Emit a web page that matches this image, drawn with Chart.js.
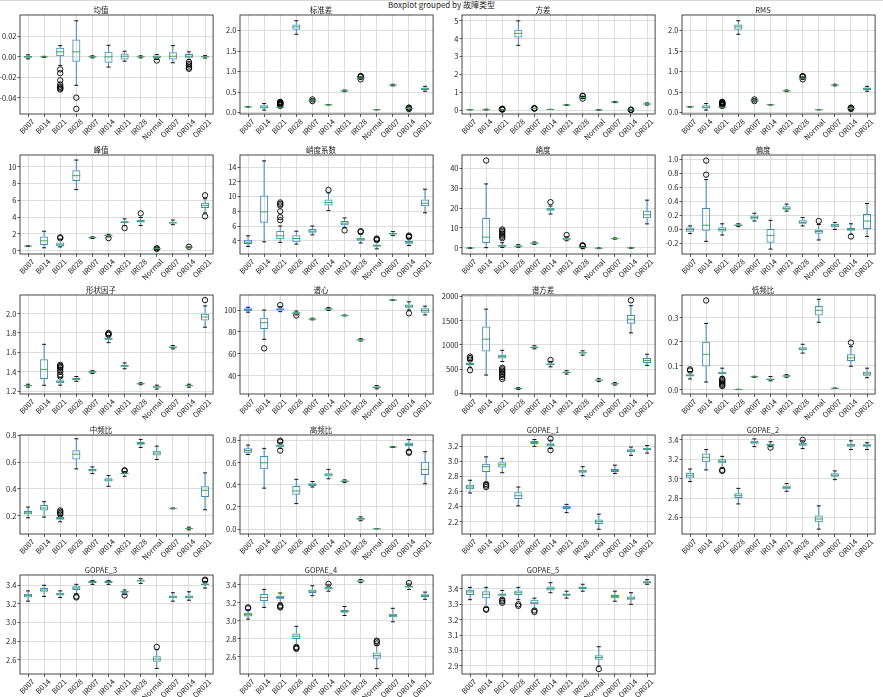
<!DOCTYPE html>
<html>
<head>
<meta charset="utf-8">
<script src="https://cdn.jsdelivr.net/npm/chart.js@4.4.1/dist/chart.umd.min.js"></script>
<style>
  body { margin: 0; background: #fff; width: 883px; height: 697px; overflow: hidden; position: relative; font-family: 'Noto Sans CJK SC', 'Noto Sans', sans-serif; }
  #topline { position: absolute; left: 0; top: 0; width: 883px; height: 1px; background: #d8d8d8; }
  #title { position: absolute; top: 0; left: 0; width: 883px; text-align: center; font-size: 8px; line-height: 10px; color: #222; }
  .cell { position: absolute; }
</style>
</head>
<body>
<div id="topline"></div>
<div id="title">Boxplot grouped by 故障类型</div>
<script>
// categories (fault types)
const cats = ['B007', 'B014', 'B021', 'B028', 'IR007', 'IR014', 'IR021', 'IR028', 'Normal', 'OR007', 'OR014', 'OR021'];

// each box row: [lower whisker, q1, median, q3, upper whisker]
const meanBox = [[-0.002,-0.001,0,0.001,0.002],[-0.0005,-0.0002,0,0.0002,0.0005],[-0.0084,0.0006,0.0049,0.0088,0.011],[-0.0279,-0.0049,0.0049,0.0169,0.0353],[-0.001,-0.0005,0,0.0005,0.001],[-0.010,-0.0058,0,0.0049,0.0113],[-0.0042,-0.0026,0.0006,0.0032,0.0055],[-0.001,-0.0004,0,0.0004,0.001],[-0.0026,-0.0013,0,0.0013,0.0023],[-0.0058,-0.0026,0.0006,0.0045,0.011],[-0.0026,-0.001,0.0006,0.0029,0.0049],[-0.0012,-0.0005,0,0.0005,0.0012]];
const meanOut = [[],[],[-0.0123,-0.016,-0.023,-0.027,-0.029,-0.030,-0.031,-0.032],[-0.040,-0.051],[],[],[],[],[-0.0036],[],[-0.005,-0.007,-0.0085,-0.0105,-0.0117],[]];
const meanTicks = [-0.04, -0.02, 0, 0.02];

const stdBox = [[0.135,0.138,0.14,0.142,0.145],[0.06,0.1,0.13,0.18,0.22],[0.11,0.12,0.13,0.14,0.155],[1.91,2.02,2.09,2.15,2.24],[0.29,0.295,0.3,0.305,0.31],[0.185,0.188,0.19,0.192,0.195],[0.51,0.52,0.53,0.54,0.55],[0.82,0.83,0.84,0.85,0.86],[0.068,0.069,0.07,0.071,0.072],[0.65,0.66,0.67,0.68,0.69],[0.09,0.095,0.1,0.105,0.11],[0.52,0.55,0.58,0.61,0.64]];
const stdOut = [[],[],[0.17,0.19,0.2,0.21,0.22,0.23,0.24,0.25,0.26],[],[0.28,0.32],[],[],[0.81,0.87,0.88,0.89],[],[],[0.085,0.115,0.12],[]];
const stdTicks = [0, 0.5, 1.0, 1.5, 2.0];

const varBox = [[0.018,0.019,0.02,0.021,0.022],[0.005,0.01,0.02,0.035,0.05],[0.012,0.015,0.017,0.02,0.025],[3.63,4.07,4.3,4.5,5.0],[0.084,0.087,0.09,0.093,0.096],[0.034,0.035,0.036,0.037,0.038],[0.26,0.27,0.28,0.29,0.3],[0.66,0.69,0.71,0.73,0.76],[0.004,0.0045,0.005,0.0055,0.006],[0.42,0.44,0.45,0.46,0.48],[0.008,0.009,0.01,0.011,0.012],[0.28,0.31,0.34,0.37,0.4]];
const varOut = [[],[],[0.03,0.04,0.05,0.06,0.07],[],[0.08,0.1,0.11],[],[],[0.64,0.78,0.8],[],[],[0.005,0.015,0.02],[]];
const varTicks = [0, 1, 2, 3, 4, 5];

const rmsBox = [[0.135,0.138,0.14,0.142,0.145],[0.06,0.1,0.13,0.18,0.22],[0.11,0.12,0.13,0.14,0.155],[1.91,2.02,2.09,2.15,2.24],[0.29,0.295,0.3,0.305,0.31],[0.185,0.188,0.19,0.192,0.195],[0.51,0.52,0.53,0.54,0.55],[0.82,0.83,0.84,0.85,0.86],[0.068,0.069,0.07,0.071,0.072],[0.65,0.66,0.67,0.68,0.69],[0.09,0.095,0.1,0.105,0.11],[0.52,0.55,0.58,0.61,0.64]];
const rmsOut = [[],[],[0.17,0.19,0.2,0.21,0.22,0.23,0.24,0.25,0.26],[],[0.28,0.32],[],[],[0.81,0.87,0.88,0.89],[],[],[0.085,0.115,0.12],[]];
const rmsTicks = [0, 0.5, 1.0, 1.5, 2.0];

const peakBox = [[0.5,0.53,0.55,0.57,0.6],[0.35,0.67,1.18,1.69,2.32],[0.45,0.51,0.7,0.98,1.38],[7.28,8.3,8.94,9.57,10.8],[1.45,1.5,1.55,1.6,1.65],[1.65,1.75,1.8,1.85,1.95],[3.0,3.3,3.4,3.5,3.8],[3.0,3.35,3.5,3.65,3.95],[0.15,0.2,0.25,0.3,0.35],[3.1,3.25,3.32,3.4,3.65],[0.38,0.4,0.42,0.44,0.46],[4.5,5.1,5.4,5.7,6.2]];
const peakOut = [[],[],[1.5,1.6],[],[],[1.5],[2.7],[4.45],[0.22,0.3],[],[0.47],[4.1,6.6]];
const peakTicks = [0, 2, 4, 6, 8, 10];

const crestBox = [[3.24,3.55,3.8,4.13,4.67],[3.85,6.46,7.93,10.16,14.85],[3.78,4.22,4.67,5.34,6.0],[3.55,3.78,4.3,4.76,5.3],[4.8,5.1,5.3,5.6,6.0],[8.1,8.8,9.2,9.6,10.5],[5.8,6.1,6.4,6.7,7.1],[3.7,4.0,4.2,4.4,4.9],[2.9,3.2,3.35,3.5,3.9],[4.7,4.85,4.95,5.05,5.25],[3.35,3.6,3.8,3.95,4.3],[7.8,8.7,9.1,9.6,11.0]];
const crestOut = [[],[],[6.8,7.2,8.0,8.8,9.0,9.2],[],[],[10.9],[5.4],[5.2,5.3],[4.1,4.2,4.3],[],[4.5,4.6,4.7],[]];
const crestTicks = [4, 6, 8, 10, 12, 14];

const kurtBox = [[-0.4,-0.3,-0.2,-0.1,0.0],[0,2.3,5.3,15,32.2],[0.1,0.4,0.9,1.3,2.5],[0.2,0.5,0.8,1.1,1.5],[1.7,2.0,2.3,2.6,2.9],[17,18.6,19.4,20.2,21],[3.5,4.0,4.4,4.8,5.5],[-0.5,-0.1,0.2,0.5,0.6],[-0.5,-0.4,-0.3,-0.2,-0.1],[4.3,4.5,4.6,4.7,4.9],[-0.3,-0.2,-0.1,0,0.1],[12,14.8,16.6,18.6,24]];
const kurtOut = [[],[44],[4.8,5.5,6.2,7,7.8,8.5,9.2],[],[],[23],[6.4],[0.8,1.0,1.2],[],[],[],[]];
const kurtTicks = [0, 10, 20, 30, 40];

const skewBox = [[-0.06,-0.033,0,0.028,0.05],[-0.17,-0.02,0.06,0.306,0.71],[-0.08,-0.03,0,0.03,0.08],[0.04,0.05,0.06,0.07,0.08],[0.12,0.14,0.17,0.2,0.23],[-0.28,-0.19,-0.085,0.005,0.13],[0.26,0.28,0.3,0.33,0.36],[0.05,0.08,0.1,0.13,0.17],[-0.15,-0.06,-0.03,0,0.07],[0,0.03,0.06,0.08,0.1],[-0.07,-0.02,0,0.02,0.08],[-0.1,0,0.12,0.22,0.37]];
const skewOut = [[],[0.78,0.98],[],[],[],[],[],[],[0.12],[],[-0.1],[]];
const skewTicks = [-0.2, 0, 0.2, 0.4, 0.6, 0.8, 1.0];

const shapeBox = [[1.24,1.25,1.255,1.26,1.27],[1.259,1.324,1.424,1.528,1.683],[1.26,1.28,1.295,1.31,1.34],[1.3,1.31,1.32,1.335,1.35],[1.38,1.39,1.397,1.405,1.41],[1.7,1.73,1.74,1.75,1.77],[1.43,1.45,1.46,1.47,1.49],[1.265,1.27,1.275,1.28,1.285],[1.22,1.235,1.24,1.25,1.26],[1.635,1.645,1.652,1.66,1.67],[1.24,1.25,1.255,1.26,1.27],[1.86,1.93,1.965,2.0,2.08]];
const shapeOut = [[],[],[1.35,1.37,1.4,1.42,1.44,1.45,1.46,1.47],[],[],[1.78,1.79,1.8],[],[],[],[],[],[2.14]];
const shapeTicks = [1.2, 1.4, 1.6, 1.8, 2.0];

const centBox = [[98,99,100.3,101.5,102.5],[73.2,82.6,88.4,93,100],[98.5,99.5,100.5,101.5,103],[95.5,96.5,97.2,98,99],[91,91.3,91.7,92.1,92.5],[99.7,100.3,101,101.5,102.3],[94.6,94.8,95,95.2,95.4],[71.7,72.3,72.8,73.3,73.8],[28,28.8,29.5,30.2,31],[108.7,108.9,109,109.1,109.3],[100,102,103.5,105,107.5],[95.5,97.5,99.5,101.5,103.5]];
const centOut = [[],[65],[104.5],[95],[],[],[],[],[],[],[97],[]];
const centTicks = [40, 60, 80, 100];

const svarBox = [[540,590,610,630,680],[380,866,1120,1381,1739],[660,720,760,800,890],[85,95,103,110,120],[920,940,952,965,985],[550,590,605,620,660],[400,425,437,450,470],[790,825,837,850,880],[245,265,275,285,305],[175,190,200,210,225],[1250,1440,1530,1620,1810],[580,630,680,730,810]];
const svarOut = [[480,700,730,760],[],[300,340,380,410,440,470,500,530],[],[],[690],[],[],[],[],[1920],[]];
const svarTicks = [0, 500, 1000, 1500, 2000];

const lowBox = [[0.045,0.055,0.06,0.065,0.075],[0.032,0.097,0.148,0.2,0.277],[0.055,0.065,0.07,0.075,0.09],[0.0005,0.0008,0.001,0.0012,0.0015],[0.052,0.053,0.054,0.055,0.056],[0.037,0.04,0.043,0.047,0.055],[0.052,0.055,0.057,0.06,0.063],[0.153,0.165,0.17,0.178,0.19],[0.282,0.31,0.332,0.35,0.378],[0.005,0.0055,0.006,0.0065,0.007],[0.098,0.12,0.133,0.148,0.18],[0.05,0.058,0.066,0.075,0.09]];
const lowOut = [[0.08,0.085],[0.373],[0.015,0.02,0.025,0.03,0.035,0.04,0.045],[],[],[],[],[],[],[],[0.197],[]];
const lowTicks = [0.0, 0.1, 0.2, 0.3];

const midBox = [[0.185,0.21,0.222,0.235,0.265],[0.19,0.24,0.258,0.28,0.305],[0.155,0.17,0.18,0.19,0.2],[0.55,0.62,0.66,0.69,0.775],[0.515,0.53,0.54,0.55,0.565],[0.42,0.455,0.467,0.48,0.5],[0.495,0.51,0.515,0.52,0.53],[0.71,0.73,0.74,0.75,0.77],[0.62,0.65,0.668,0.685,0.72],[0.252,0.254,0.255,0.256,0.258],[0.095,0.1,0.105,0.11,0.115],[0.245,0.34,0.39,0.42,0.52]];
const midOut = [[],[],[0.21,0.22,0.23,0.24],[],[],[],[0.535,0.54],[],[],[],[],[]];
const midTicks = [0.2, 0.4, 0.6, 0.8];

const highBox = [[0.675,0.69,0.71,0.73,0.76],[0.37,0.54,0.6,0.66,0.73],[0.73,0.74,0.752,0.765,0.78],[0.23,0.31,0.345,0.39,0.45],[0.38,0.39,0.4,0.415,0.43],[0.455,0.475,0.49,0.505,0.54],[0.42,0.425,0.432,0.44,0.445],[0.075,0.085,0.093,0.1,0.11],[0.002,0.0025,0.003,0.0035,0.004],[0.738,0.74,0.742,0.744,0.746],[0.72,0.75,0.765,0.78,0.81],[0.41,0.49,0.54,0.61,0.7]];
const highOut = [[],[],[0.71,0.79,0.8],[],[],[],[],[],[],[],[0.69,0.7],[]];
const highTicks = [0.0, 0.2, 0.4, 0.6, 0.8];

const g1Box = [[2.58,2.63,2.66,2.69,2.75],[2.72,2.86,2.93,2.97,3.06],[2.85,2.92,2.955,2.99,3.04],[2.41,2.5,2.545,2.59,2.66],[3.2,3.23,3.25,3.27,3.29],[3.17,3.2,3.22,3.24,3.28],[2.32,2.37,2.39,2.41,2.43],[2.81,2.85,2.87,2.89,2.93],[2.1,2.17,2.2,2.23,2.3],[2.84,2.86,2.88,2.9,2.95],[3.08,3.12,3.14,3.16,3.19],[3.11,3.15,3.165,3.18,3.21]];
const g1Out = [[],[2.66,2.68,2.7],[],[],[],[3.15,3.3],[],[],[],[],[],[]];
const g1Ticks = [2.2, 2.4, 2.6, 2.8, 3.0, 3.2];

const g2Box = [[2.97,3.01,3.035,3.06,3.1],[3.09,3.17,3.22,3.26,3.3],[3.11,3.16,3.18,3.2,3.23],[2.74,2.8,2.825,2.85,2.9],[3.33,3.36,3.375,3.39,3.41],[3.33,3.34,3.35,3.36,3.38],[2.87,2.89,2.91,2.93,2.95],[3.31,3.34,3.355,3.37,3.39],[2.48,2.55,2.585,2.62,2.72],[2.99,3.02,3.035,3.055,3.08],[3.3,3.33,3.345,3.36,3.39],[3.3,3.33,3.343,3.355,3.37]];
const g2Out = [[],[],[3.08,3.09],[],[],[3.32],[],[3.4],[],[],[],[]];
const g2Ticks = [2.6, 2.8, 3.0, 3.2, 3.4];

const g3Box = [[3.23,3.27,3.29,3.31,3.34],[3.28,3.33,3.35,3.37,3.4],[3.27,3.29,3.305,3.32,3.34],[3.31,3.35,3.37,3.39,3.41],[3.41,3.425,3.435,3.445,3.45],[3.41,3.425,3.435,3.445,3.45],[3.3,3.32,3.33,3.34,3.35],[3.42,3.44,3.448,3.455,3.47],[2.51,2.58,2.61,2.64,2.71],[3.23,3.26,3.275,3.29,3.32],[3.24,3.26,3.275,3.29,3.33],[3.37,3.4,3.41,3.42,3.44]];
const g3Out = [[],[],[],[3.27,3.28],[],[],[3.29],[],[2.74],[],[],[3.45,3.46]];
const g3Ticks = [2.6, 2.8, 3.0, 3.2, 3.4];

const g4Box = [[3.02,3.05,3.07,3.09,3.12],[3.15,3.22,3.26,3.3,3.35],[3.2,3.24,3.26,3.28,3.31],[2.73,2.8,2.83,2.86,2.94],[3.28,3.31,3.33,3.35,3.39],[3.33,3.35,3.365,3.38,3.4],[3.06,3.09,3.105,3.12,3.16],[3.425,3.435,3.443,3.45,3.46],[2.47,2.58,2.615,2.65,2.73],[2.99,3.04,3.06,3.08,3.14],[3.35,3.37,3.38,3.39,3.41],[3.24,3.265,3.28,3.295,3.32]];
const g4Out = [[3.14,3.15],[],[3.15,3.16,3.17],[2.69,2.7,2.71],[],[3.41],[],[],[2.75,2.77,2.78],[],[3.42],[]];
const g4Ticks = [2.6, 2.8, 3.0, 3.2, 3.4];

const g5Box = [[3.33,3.36,3.38,3.395,3.41],[3.28,3.34,3.365,3.385,3.41],[3.34,3.355,3.362,3.37,3.39],[3.33,3.36,3.375,3.39,3.41],[3.27,3.3,3.31,3.33,3.34],[3.375,3.39,3.402,3.415,3.44],[3.34,3.355,3.362,3.37,3.385],[3.385,3.4,3.407,3.415,3.43],[2.9,2.94,2.955,2.97,3.025],[3.32,3.34,3.35,3.36,3.385],[3.3,3.33,3.34,3.35,3.375],[3.43,3.435,3.443,3.45,3.46]];
const g5Out = [[],[3.265,3.27],[3.31,3.32,3.33],[3.29,3.3],[3.25,3.26],[],[],[],[2.88],[],[],[]];
const g5Ticks = [2.9, 3.0, 3.1, 3.2, 3.3, 3.4];

const panels = [
  { title: '均值', box: meanBox, out: meanOut, ticks: meanTicks, min: -0.056, max: 0.041, dec: 2 },
  { title: '标准差', box: stdBox, out: stdOut, ticks: stdTicks, min: -0.035, max: 2.38, dec: 1 },
  { title: '方差', box: varBox, out: varOut, ticks: varTicks, min: -0.22, max: 5.33, dec: 0 },
  { title: 'RMS', box: rmsBox, out: rmsOut, ticks: rmsTicks, min: -0.035, max: 2.38, dec: 1 },
  { title: '峰值', box: peakBox, out: peakOut, ticks: peakTicks, min: -0.39, max: 11.4, dec: 0 },
  { title: '峭度系数', box: crestBox, out: crestOut, ticks: crestTicks, min: 2.2, max: 15.65, dec: 0 },
  { title: '峭度', box: kurtBox, out: kurtOut, ticks: kurtTicks, min: -3.2, max: 46.8, dec: 0 },
  { title: '偏度', box: skewBox, out: skewOut, ticks: skewTicks, min: -0.35, max: 1.06, dec: 1 },
  { title: '形状因子', box: shapeBox, out: shapeOut, ticks: shapeTicks, min: 1.169, max: 2.193, dec: 1 },
  { title: '谱心', box: centBox, out: centOut, ticks: centTicks, min: 23.3, max: 113.7, dec: 0 },
  { title: '谱方差', box: svarBox, out: svarOut, ticks: svarTicks, min: -10, max: 2030, dec: 0 },
  { title: '低频比', box: lowBox, out: lowOut, ticks: lowTicks, min: -0.018, max: 0.396, dec: 1 },
  { title: '中频比', box: midBox, out: midOut, ticks: midTicks, min: 0.064, max: 0.803, dec: 1 },
  { title: '高频比', box: highBox, out: highOut, ticks: highTicks, min: -0.045, max: 0.851, dec: 1 },
  { title: 'GOPAE_1', box: g1Box, out: g1Out, ticks: g1Ticks, min: 2.037, max: 3.35, dec: 1 },
  { title: 'GOPAE_2', box: g2Box, out: g2Out, ticks: g2Ticks, min: 2.43, max: 3.45, dec: 1 },
  { title: 'GOPAE_3', box: g3Box, out: g3Out, ticks: g3Ticks, min: 2.45, max: 3.51, dec: 1 },
  { title: 'GOPAE_4', box: g4Box, out: g4Out, ticks: g4Ticks, min: 2.41, max: 3.51, dec: 1 },
  { title: 'GOPAE_5', box: g5Box, out: g5Out, ticks: g5Ticks, min: 2.848, max: 3.49, dec: 1 },
];

// layout of the 5x4 grid (plot areas)
const plotLefts = [20, 240, 462, 682];
const plotTops = [15, 155, 295, 435, 575];
const plotW = 194, plotH = 99;
const padL = 32, padT = 11, padR = 4, padB = 30;

const boxColor = '#3d8bbb';
const medColor = '#45a65a';
const gridColor = '#d3d3d3';

Chart.defaults.font.family = "'Noto Sans CJK SC', 'Noto Sans', sans-serif";
Chart.defaults.font.size = 7.5;
Chart.defaults.color = '#222';

function seg(ctx, x1, y1, x2, y2) {
  ctx.beginPath();
  ctx.moveTo(x1, y1);
  ctx.lineTo(x2, y2);
  ctx.stroke();
}

// whiskers, caps and medians, placed with the chart's own scales
function whiskerPlugin(box) {
  return {
    id: 'whiskers',
    afterDatasetsDraw(chart) {
      const { ctx, chartArea, scales: { x, y } } = chart;
      const bars = chart.getDatasetMeta(0).data;
      ctx.save();
      ctx.beginPath();
      ctx.rect(chartArea.left, chartArea.top, chartArea.right - chartArea.left, chartArea.bottom - chartArea.top);
      ctx.clip();
      ctx.lineWidth = 1;
      box.forEach((s, i) => {
        const cx = x.getPixelForValue(i);
        const hw = bars[i].width / 2, cw = hw / 2;
        const [lo, q1, md, q3, hi] = s.map(v => y.getPixelForValue(v));
        ctx.strokeStyle = boxColor;
        seg(ctx, cx, q1, cx, lo);
        seg(ctx, cx, q3, cx, hi);
        ctx.strokeStyle = '#111';
        seg(ctx, cx - cw, lo, cx + cw, lo);
        seg(ctx, cx - cw, hi, cx + cw, hi);
        ctx.strokeStyle = medColor;
        seg(ctx, cx - hw, md, cx + hw, md);
      });
      ctx.restore();
    }
  };
}

const framePlugin = {
  id: 'frame',
  afterDraw(chart) {
    const { ctx, chartArea: a } = chart;
    ctx.save();
    ctx.strokeStyle = '#333';
    ctx.lineWidth = 0.9;
    ctx.strokeRect(a.left, a.top, a.right - a.left, a.bottom - a.top);
    ctx.restore();
  }
};

panels.forEach((p, k) => {
  const col = k % 4, row = Math.floor(k / 4);
  const div = document.createElement('div');
  div.className = 'cell';
  const W = plotW + padL + padR, H = plotH + padT + padB;
  div.style.left = (plotLefts[col] - padL) + 'px';
  div.style.top = (plotTops[row] - padT) + 'px';
  const canvas = document.createElement('canvas');
  canvas.width = W;
  canvas.height = H;
  canvas.style.width = W + 'px';
  canvas.style.height = H + 'px';
  div.appendChild(canvas);
  document.body.appendChild(div);

  const fliers = [];
  p.out.forEach((arr, i) => arr.forEach(v => fliers.push({ x: cats[i], y: v })));

  new Chart(canvas, {
    type: 'bar',
    data: {
      labels: cats,
      datasets: [
        {
          data: p.box.map(s => [s[1], s[3]]),
          backgroundColor: 'rgba(0,0,0,0)',
          borderColor: boxColor,
          borderWidth: 1,
          borderSkipped: false,
          barPercentage: 0.5,
          categoryPercentage: 1.0
        },
        {
          type: 'scatter',
          data: fliers,
          pointRadius: 2.7,
          pointBorderWidth: 0.9,
          pointBorderColor: '#000',
          pointBackgroundColor: 'rgba(0,0,0,0)'
        }
      ]
    },
    options: {
      responsive: false,
      animation: false,
      events: [],
      layout: { padding: { top: padT - 9, right: padR, left: 0, bottom: 0 } },
      plugins: {
        legend: { display: false },
        tooltip: { enabled: false },
        title: { display: true, text: p.title, font: { size: 7.5, weight: 'normal' }, padding: { top: 0, bottom: 0 }, color: '#222' }
      },
      scales: {
        x: {
          type: 'category',
          offset: true,
          grid: { offset: false, color: gridColor, lineWidth: 0.8, tickLength: 3, tickColor: '#333' },
          border: { display: false },
          ticks: { autoSkip: false, minRotation: 45, maxRotation: 45, padding: 0, labelOffset: 5 },
          afterFit: s => { s.height = padB; }
        },
        y: {
          type: 'linear',
          min: p.min,
          max: p.max,
          grid: { color: gridColor, lineWidth: 0.8, tickLength: 2.5, tickColor: '#333' },
          border: { display: false },
          ticks: { padding: 1, callback: v => v.toFixed(p.dec) },
          afterBuildTicks: s => { s.ticks = p.ticks.map(v => ({ value: v })); },
          afterFit: s => { s.width = padL; }
        }
      }
    },
    plugins: [whiskerPlugin(p.box), framePlugin]
  });
});
</script>
</body>
</html>
